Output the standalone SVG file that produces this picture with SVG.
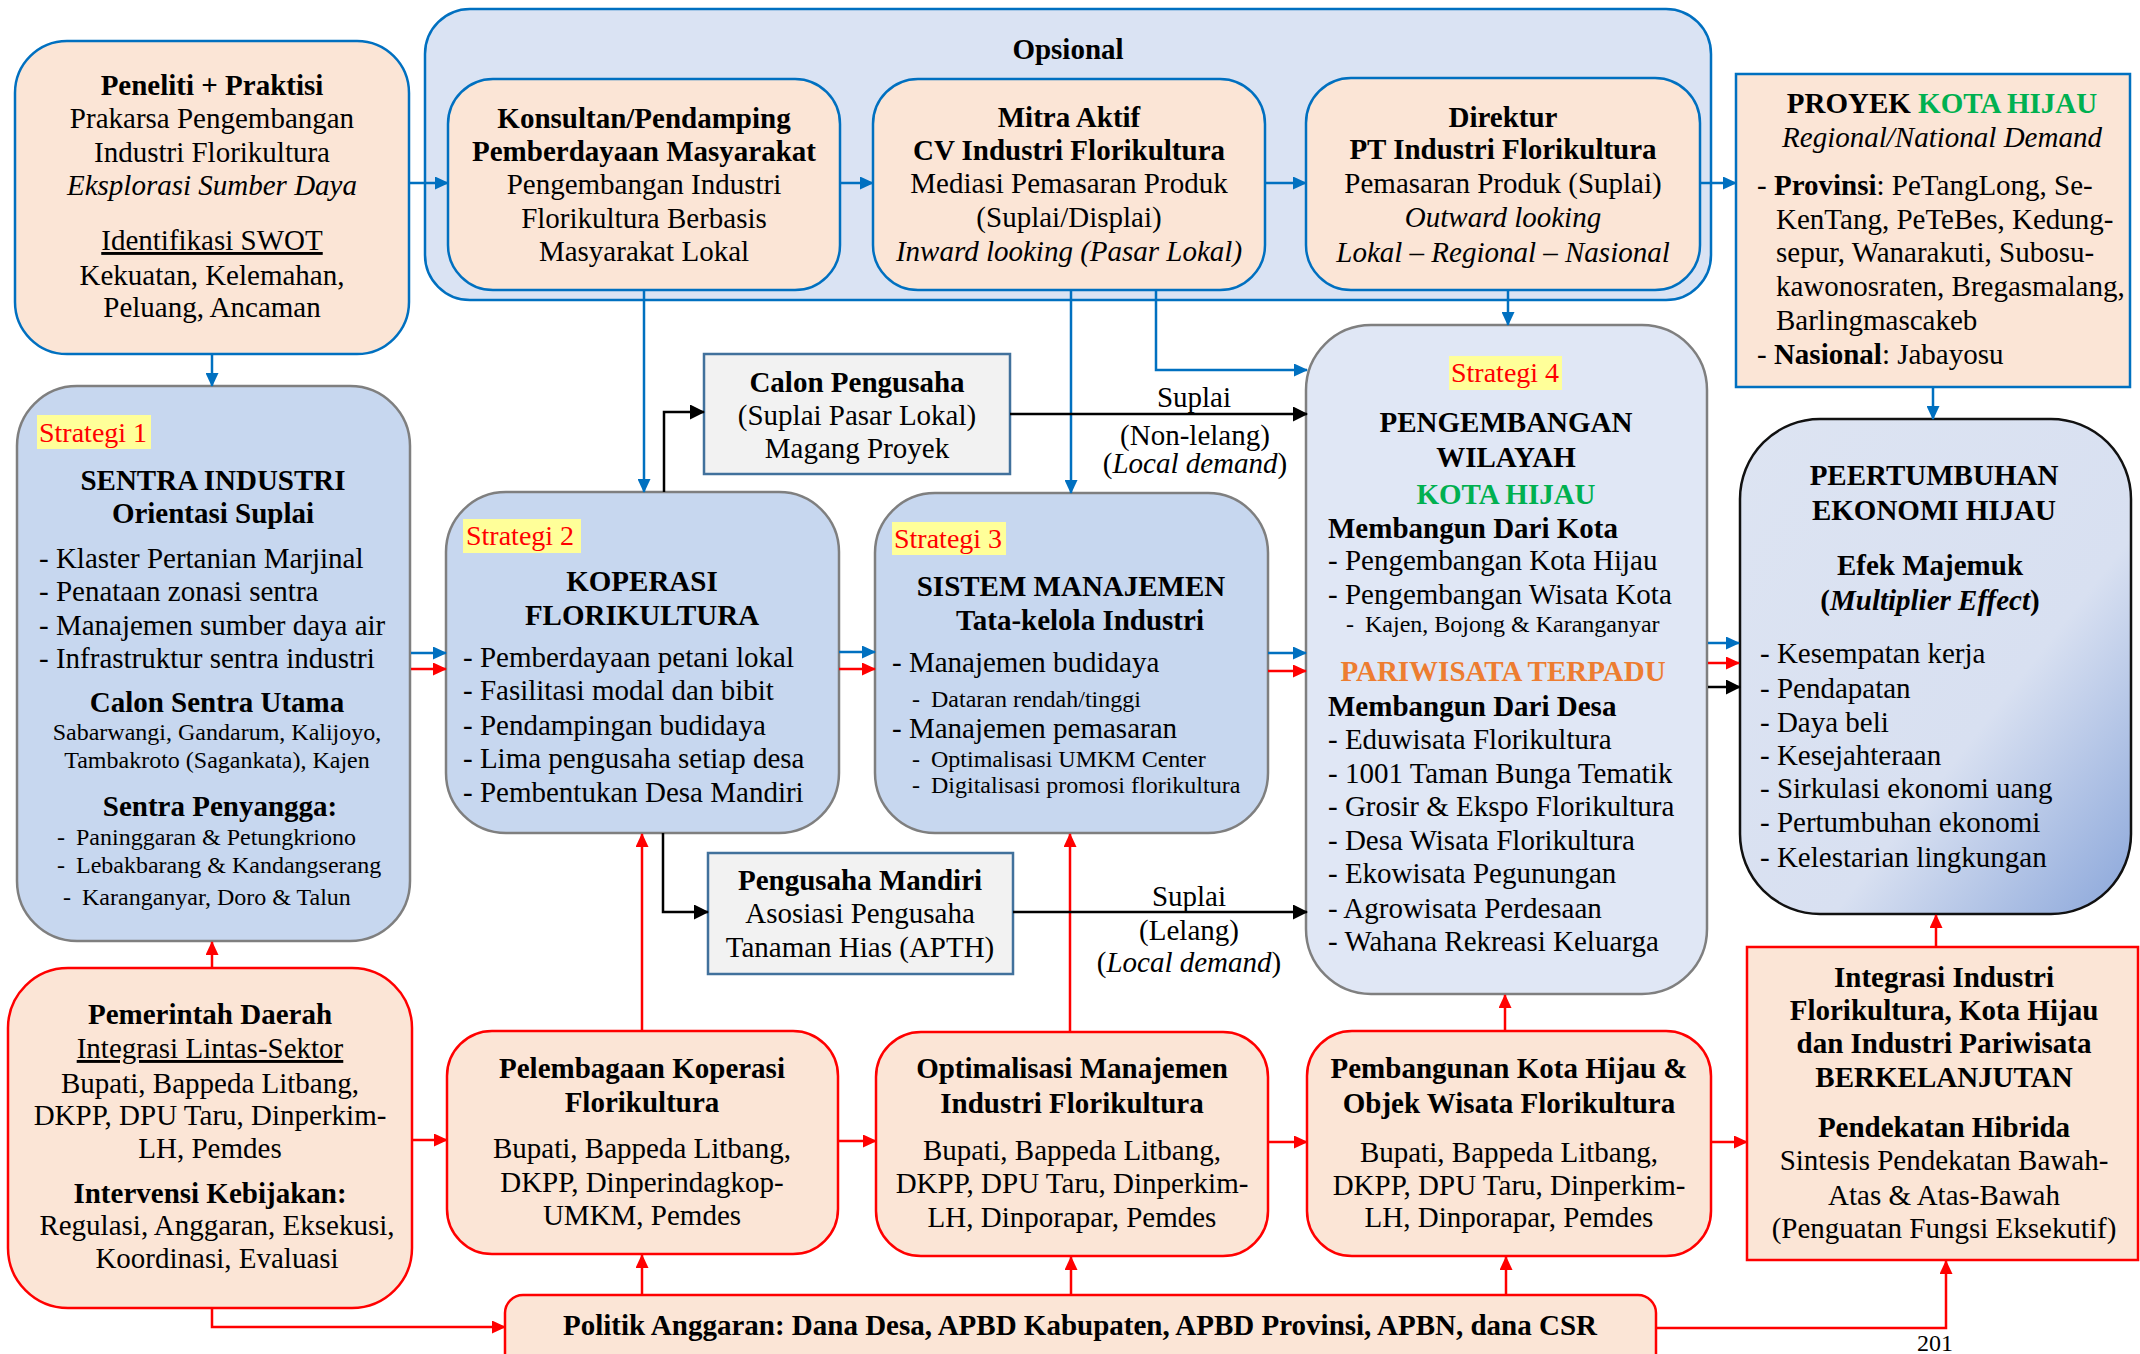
<svg xmlns="http://www.w3.org/2000/svg" width="2140" height="1354" viewBox="0 0 2140 1354">
<style>
text{font-family:"Liberation Serif","Times New Roman",serif;font-size:29px;fill:#000}
.b{font-weight:bold}
.i{font-style:italic}
.s{font-size:24px}
.c{text-anchor:middle}
.u{text-decoration:underline}
.lab{font-size:28px;fill:#FF0000}
.lbg{fill:#FFFF99}
.peach{fill:#FBE5D6}
.bl{stroke:#0070C0;stroke-width:2.5}
.rd{stroke:#FF0000;stroke-width:2.5}
.gy{stroke:#7F7F7F;stroke-width:2.5}
.st{fill:#C7D7EF}
.gbox{fill:#F2F2F2;stroke:#41719C;stroke-width:2.5}
.cb{fill:none;stroke:#0070C0;stroke-width:2.5}
.cr{fill:none;stroke:#FF0000;stroke-width:2.5}
.ck{fill:none;stroke:#000;stroke-width:2.5}
</style>
<defs>
<marker id="ab" viewBox="0 0 14 13" refX="13" refY="6.5" markerWidth="14" markerHeight="13" markerUnits="userSpaceOnUse" orient="auto"><path d="M0,0 L14,6.5 L0,13 z" fill="#0070C0"/></marker>
<marker id="ar" viewBox="0 0 14 13" refX="13" refY="6.5" markerWidth="14" markerHeight="13" markerUnits="userSpaceOnUse" orient="auto"><path d="M0,0 L14,6.5 L0,13 z" fill="#FF0000"/></marker>
<marker id="ak" viewBox="0 0 15 15" refX="14" refY="7.5" markerWidth="15" markerHeight="15" markerUnits="userSpaceOnUse" orient="auto"><path d="M0,0 L15,7.5 L0,15 z" fill="#000"/></marker>
<linearGradient id="gp" x1="0" y1="0" x2="1" y2="1">
<stop offset="0" stop-color="#DDE4F2"/>
<stop offset="0.62" stop-color="#D8E0F1"/>
<stop offset="1" stop-color="#8AA6DA"/>
</linearGradient>
</defs>
<rect width="2140" height="1354" fill="#fff"/>

<g id="n-opsional">
<rect x="425" y="9" width="1286" height="291" rx="45" fill="#DAE3F3" class="bl"/>
<text x="1068" y="59" class="b c">Opsional</text>
</g>

<g id="n-peneliti">
<rect x="15" y="41" width="394" height="313" rx="52" class="peach bl"/>
<text x="212" y="95" class="b c">Peneliti + Praktisi</text>
<text x="212" y="128" class="c">Prakarsa Pengembangan</text>
<text x="212" y="162" class="c">Industri Florikultura</text>
<text x="212" y="195" class="c i">Eksplorasi Sumber Daya</text>
<text x="212" y="250" class="c u">Identifikasi SWOT</text>
<text x="212" y="285" class="c">Kekuatan, Kelemahan,</text>
<text x="212" y="317" class="c">Peluang, Ancaman</text>
</g>

<g id="n-konsultan">
<rect x="448" y="79" width="392" height="211" rx="45" class="peach bl"/>
<text x="644" y="128" class="b c">Konsultan/Pendamping</text>
<text x="644" y="161" class="b c">Pemberdayaan Masyarakat</text>
<text x="644" y="194" class="c">Pengembangan Industri</text>
<text x="644" y="228" class="c">Florikultura Berbasis</text>
<text x="644" y="261" class="c">Masyarakat Lokal</text>
</g>

<g id="n-mitra">
<rect x="873" y="79" width="392" height="211" rx="45" class="peach bl"/>
<text x="1069" y="127" class="b c">Mitra Aktif</text>
<text x="1069" y="160" class="b c">CV Industri Florikultura</text>
<text x="1069" y="193" class="c">Mediasi Pemasaran Produk</text>
<text x="1069" y="227" class="c">(Suplai/Displai)</text>
<text x="1069" y="261" class="c i">Inward looking (Pasar Lokal)</text>
</g>

<g id="n-direktur">
<rect x="1306" y="78" width="394" height="212" rx="45" class="peach bl"/>
<text x="1503" y="127" class="b c">Direktur</text>
<text x="1503" y="159" class="b c">PT Industri Florikultura</text>
<text x="1503" y="193" class="c">Pemasaran Produk (Suplai)</text>
<text x="1503" y="227" class="c i">Outward looking</text>
<text x="1503" y="262" class="c i">Lokal – Regional – Nasional</text>
</g>

<g id="n-proyek">
<rect x="1736" y="74" width="394" height="313" class="peach bl"/>
<text x="1942" y="113" class="b c">PROYEK <tspan fill="#00B050">KOTA HIJAU</tspan></text>
<text x="1942" y="147" class="c i">Regional/National Demand</text>
<text x="1757" y="195">- <tspan class="b">Provinsi</tspan>: PeTangLong, Se-</text>
<text x="1776" y="229">KenTang, PeTeBes, Kedung-</text>
<text x="1776" y="262">sepur, Wanarakuti, Subosu-</text>
<text x="1776" y="296">kawonosraten, Bregasmalang,</text>
<text x="1776" y="330">Barlingmascakeb</text>
<text x="1757" y="364">- <tspan class="b">Nasional</tspan>: Jabayosu</text>
</g>

<g id="n-strategi1">
<rect x="17" y="386" width="393" height="555" rx="60" class="st gy"/>
<rect x="37" y="415" width="114" height="34" class="lbg"/>
<text x="39" y="442" class="lab">Strategi 1</text>
<text x="213" y="490" class="b c">SENTRA INDUSTRI</text>
<text x="213" y="523" class="b c">Orientasi Suplai</text>
<text x="39" y="568">- Klaster Pertanian Marjinal</text>
<text x="39" y="601">- Penataan zonasi sentra</text>
<text x="39" y="635">- Manajemen sumber daya air</text>
<text x="39" y="668">- Infrastruktur sentra industri</text>
<text x="217" y="712" class="b c">Calon Sentra Utama</text>
<text x="217" y="740" class="s c">Sabarwangi, Gandarum, Kalijoyo,</text>
<text x="217" y="768" class="s c">Tambakroto (Sagankata), Kajen</text>
<text x="220" y="816" class="b c">Sentra Penyangga:</text>
<text x="57" y="845" class="s">-<tspan x="76">Paninggaran &amp; Petungkriono</tspan></text>
<text x="57" y="873" class="s">-<tspan x="76">Lebakbarang &amp; Kandangserang</tspan></text>
<text x="63" y="905" class="s">-<tspan x="82">Karanganyar, Doro &amp; Talun</tspan></text>
</g>

<g id="n-calon">
<rect x="704" y="354" width="306" height="120" class="gbox"/>
<text x="857" y="392" class="b c">Calon Pengusaha</text>
<text x="857" y="425" class="c">(Suplai Pasar Lokal)</text>
<text x="857" y="458" class="c">Magang Proyek</text>
</g>

<g id="n-strategi2">
<rect x="446" y="492" width="393" height="341" rx="60" class="st gy"/>
<rect x="463" y="519" width="118" height="34" class="lbg"/>
<text x="466" y="545" class="lab">Strategi 2</text>
<text x="642" y="591" class="b c">KOPERASI</text>
<text x="642" y="625" class="b c">FLORIKULTURA</text>
<text x="463" y="667">- Pemberdayaan petani lokal</text>
<text x="463" y="700">- Fasilitasi modal dan bibit</text>
<text x="463" y="735">- Pendampingan budidaya</text>
<text x="463" y="768">- Lima pengusaha setiap desa</text>
<text x="463" y="802">- Pembentukan Desa Mandiri</text>
</g>

<g id="n-strategi3">
<rect x="875" y="493" width="393" height="340" rx="60" class="st gy"/>
<rect x="892" y="522" width="114" height="33" class="lbg"/>
<text x="894" y="548" class="lab">Strategi 3</text>
<text x="1071" y="596" class="b c">SISTEM MANAJEMEN</text>
<text x="1080" y="630" class="b c">Tata-kelola Industri</text>
<text x="892" y="672">- Manajemen budidaya</text>
<text x="912" y="707" class="s">-<tspan x="931">Dataran rendah/tinggi</tspan></text>
<text x="892" y="738">- Manajemen pemasaran</text>
<text x="912" y="767" class="s">-<tspan x="931">Optimalisasi UMKM Center</tspan></text>
<text x="912" y="793" class="s">-<tspan x="931">Digitalisasi promosi florikultura</tspan></text>
</g>

<g id="n-mandiri">
<rect x="708" y="853" width="305" height="121" class="gbox"/>
<text x="860" y="890" class="b c">Pengusaha Mandiri</text>
<text x="860" y="923" class="c">Asosiasi Pengusaha</text>
<text x="860" y="957" class="c">Tanaman Hias (APTH)</text>
</g>

<g id="n-strategi4">
<rect x="1306" y="325" width="401" height="669" rx="65" fill="#E0E7F5" class="gy"/>
<rect x="1449" y="356" width="113" height="34" class="lbg"/>
<text x="1451" y="382" class="lab">Strategi 4</text>
<text x="1506" y="432" class="b c">PENGEMBANGAN</text>
<text x="1506" y="467" class="b c">WILAYAH</text>
<text x="1506" y="504" class="b c" style="fill:#00B050">KOTA HIJAU</text>
<text x="1328" y="538" class="b">Membangun Dari Kota</text>
<text x="1328" y="570">- Pengembangan Kota Hijau</text>
<text x="1328" y="604">- Pengembangan Wisata Kota</text>
<text x="1346" y="632" class="s">-<tspan x="1365">Kajen, Bojong &amp; Karanganyar</tspan></text>
<text x="1503" y="681" class="b c" style="fill:#ED7D31">PARIWISATA TERPADU</text>
<text x="1328" y="716" class="b">Membangun Dari Desa</text>
<text x="1328" y="749">- Eduwisata Florikultura</text>
<text x="1328" y="783">- 1001 Taman Bunga Tematik</text>
<text x="1328" y="816">- Grosir &amp; Ekspo Florikultura</text>
<text x="1328" y="850">- Desa Wisata Florikultura</text>
<text x="1328" y="883">- Ekowisata Pegunungan</text>
<text x="1328" y="918">- Agrowisata Perdesaan</text>
<text x="1328" y="951">- Wahana Rekreasi Keluarga</text>
</g>

<g id="n-pertumbuhan">
<rect x="1740" y="419" width="391" height="495" rx="80" fill="url(#gp)" stroke="#111" stroke-width="2.5"/>
<text x="1934" y="485" class="b c">PEERTUMBUHAN</text>
<text x="1934" y="520" class="b c">EKONOMI HIJAU</text>
<text x="1930" y="575" class="b c">Efek Majemuk</text>
<text x="1930" y="610" class="b c">(<tspan class="i">Multiplier Effect</tspan>)</text>
<text x="1760" y="663">- Kesempatan kerja</text>
<text x="1760" y="698">- Pendapatan</text>
<text x="1760" y="732">- Daya beli</text>
<text x="1760" y="765">- Kesejahteraan</text>
<text x="1760" y="798">- Sirkulasi ekonomi uang</text>
<text x="1760" y="832">- Pertumbuhan ekonomi</text>
<text x="1760" y="867">- Kelestarian lingkungan</text>
</g>

<g id="n-pemda">
<rect x="8" y="968" width="404" height="340" rx="60" class="peach rd"/>
<text x="210" y="1024" class="b c">Pemerintah Daerah</text>
<text x="210" y="1058" class="c u">Integrasi Lintas-Sektor</text>
<text x="210" y="1093" class="c">Bupati, Bappeda Litbang,</text>
<text x="210" y="1125" class="c">DKPP, DPU Taru, Dinperkim-</text>
<text x="210" y="1158" class="c">LH, Pemdes</text>
<text x="210" y="1203" class="b c">Intervensi Kebijakan:</text>
<text x="217" y="1235" class="c">Regulasi, Anggaran, Eksekusi,</text>
<text x="217" y="1268" class="c">Koordinasi, Evaluasi</text>
</g>

<g id="n-pelembagaan">
<rect x="447" y="1031" width="391" height="223" rx="45" class="peach rd"/>
<text x="642" y="1078" class="b c">Pelembagaan Koperasi</text>
<text x="642" y="1112" class="b c">Florikultura</text>
<text x="642" y="1158" class="c">Bupati, Bappeda Litbang,</text>
<text x="642" y="1192" class="c">DKPP, Dinperindagkop-</text>
<text x="642" y="1225" class="c">UMKM, Pemdes</text>
</g>

<g id="n-optimalisasi">
<rect x="876" y="1032" width="392" height="224" rx="45" class="peach rd"/>
<text x="1072" y="1078" class="b c">Optimalisasi Manajemen</text>
<text x="1072" y="1113" class="b c">Industri Florikultura</text>
<text x="1072" y="1160" class="c">Bupati, Bappeda Litbang,</text>
<text x="1072" y="1193" class="c">DKPP, DPU Taru, Dinperkim-</text>
<text x="1072" y="1227" class="c">LH, Dinporapar, Pemdes</text>
</g>

<g id="n-pembangunan">
<rect x="1307" y="1031" width="404" height="225" rx="45" class="peach rd"/>
<text x="1509" y="1078" class="b c">Pembangunan Kota Hijau &amp;</text>
<text x="1509" y="1113" class="b c">Objek Wisata Florikultura</text>
<text x="1509" y="1162" class="c">Bupati, Bappeda Litbang,</text>
<text x="1509" y="1195" class="c">DKPP, DPU Taru, Dinperkim-</text>
<text x="1509" y="1227" class="c">LH, Dinporapar, Pemdes</text>
</g>

<g id="n-integrasi">
<rect x="1747" y="947" width="391" height="313" class="peach rd"/>
<text x="1944" y="987" class="b c">Integrasi Industri</text>
<text x="1944" y="1020" class="b c">Florikultura, Kota Hijau</text>
<text x="1944" y="1053" class="b c">dan Industri Pariwisata</text>
<text x="1944" y="1087" class="b c">BERKELANJUTAN</text>
<text x="1944" y="1137" class="b c">Pendekatan Hibrida</text>
<text x="1944" y="1170" class="c">Sintesis Pendekatan Bawah-</text>
<text x="1944" y="1205" class="c">Atas &amp; Atas-Bawah</text>
<text x="1944" y="1238" class="c">(Penguatan Fungsi Eksekutif)</text>
</g>

<g id="n-politik">
<rect x="505" y="1295" width="1151" height="90" rx="18" class="peach rd"/>
<text x="1080" y="1335" class="b c">Politik Anggaran: Dana Desa, APBD Kabupaten, APBD Provinsi, APBN, dana CSR</text>
</g>

<g id="connectors">
<path class="cb" marker-end="url(#ab)" d="M409,183 H448"/>
<path class="cb" marker-end="url(#ab)" d="M840,183 H873"/>
<path class="cb" marker-end="url(#ab)" d="M1265,183 H1306"/>
<path class="cb" marker-end="url(#ab)" d="M1700,183 H1736"/>
<path class="cb" marker-end="url(#ab)" d="M212,354 V386"/>
<path class="cb" marker-end="url(#ab)" d="M644,290 V492"/>
<path class="cb" marker-end="url(#ab)" d="M1071,290 V493"/>
<path class="cb" marker-end="url(#ab)" d="M1156,290 V370 H1307"/>
<path class="cb" marker-end="url(#ab)" d="M1508,290 V325"/>
<path class="cb" marker-end="url(#ab)" d="M1933,387 V419"/>
<path class="cb" marker-end="url(#ab)" d="M411,653 H446"/>
<path class="cb" marker-end="url(#ab)" d="M839,652 H875"/>
<path class="cb" marker-end="url(#ab)" d="M1268,653 H1306"/>
<path class="cb" marker-end="url(#ab)" d="M1708,643 H1739"/>

<path class="cr" marker-end="url(#ar)" d="M411,669 H446"/>
<path class="cr" marker-end="url(#ar)" d="M839,669 H875"/>
<path class="cr" marker-end="url(#ar)" d="M1268,671 H1306"/>
<path class="cr" marker-end="url(#ar)" d="M1708,663 H1739"/>
<path class="cr" marker-end="url(#ar)" d="M212,968 V942"/>
<path class="cr" marker-end="url(#ar)" d="M642,1031 V834"/>
<path class="cr" marker-end="url(#ar)" d="M1070,1032 V834"/>
<path class="cr" marker-end="url(#ar)" d="M1505,1031 V995"/>
<path class="cr" marker-end="url(#ar)" d="M1936,947 V915"/>
<path class="cr" marker-end="url(#ar)" d="M412,1140 H447"/>
<path class="cr" marker-end="url(#ar)" d="M838,1141 H876"/>
<path class="cr" marker-end="url(#ar)" d="M1268,1142 H1307"/>
<path class="cr" marker-end="url(#ar)" d="M1711,1142 H1747"/>
<path class="cr" marker-end="url(#ar)" d="M212,1308 V1327 H505"/>
<path class="cr" marker-end="url(#ar)" d="M642,1295 V1255"/>
<path class="cr" marker-end="url(#ar)" d="M1071,1295 V1257"/>
<path class="cr" marker-end="url(#ar)" d="M1506,1295 V1257"/>
<path class="cr" marker-end="url(#ar)" d="M1656,1328 H1946 V1261"/>

<path class="ck" marker-end="url(#ak)" d="M664,492 V412 H704"/>
<path class="ck" marker-end="url(#ak)" d="M1010,414 H1307"/>
<path class="ck" marker-end="url(#ak)" d="M663,833 V912 H708"/>
<path class="ck" marker-end="url(#ak)" d="M1013,912 H1307"/>
<path class="ck" marker-end="url(#ak)" d="M1708,687 H1740"/>

<text x="1194" y="407" class="c">Suplai</text>
<text x="1195" y="445" class="c">(Non-lelang)</text>
<text x="1195" y="473" class="c">(<tspan class="i">Local demand</tspan>)</text>
<text x="1189" y="906" class="c">Suplai</text>
<text x="1189" y="940" class="c">(Lelang)</text>
<text x="1189" y="972" class="c">(<tspan class="i">Local demand</tspan>)</text>
</g>

<text x="1935" y="1351" class="c" style="font-size:24px">201</text>
</svg>
